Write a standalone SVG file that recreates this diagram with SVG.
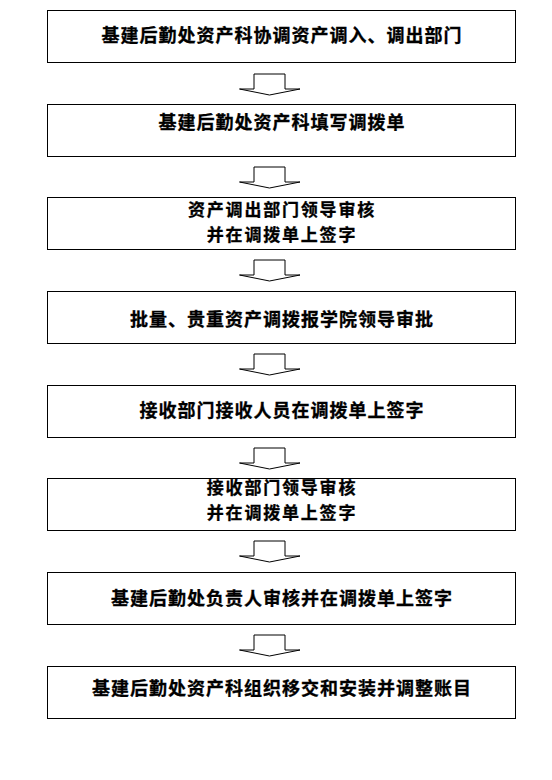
<svg xmlns="http://www.w3.org/2000/svg" width="552" height="780" viewBox="0 0 552 780">
<defs>
<style>
.box{fill:#fff;stroke:#000;stroke-width:1}
.t{font-family:"Noto Sans CJK SC","Noto Sans",sans-serif;font-weight:bold;font-size:18px;letter-spacing:1px;text-anchor:middle;fill:#000;stroke:#000;stroke-width:0.3px}
.t2{font-size:17px;letter-spacing:1.8px}
.arr{fill:#fff;stroke:#000;stroke-width:1;stroke-linejoin:miter}
</style>
<polygon id="arrowShape" class="arr" points="-15.5,0 15.5,0 15.5,15 30.5,15 0,21 -30,15 -15.5,15"/>
</defs>
<rect width="552" height="780" fill="#fff"/>
<g id="connectors">
<use href="#arrowShape" x="269.5" y="74"/>
<use href="#arrowShape" x="269.5" y="167"/>
<use href="#arrowShape" x="269.5" y="260"/>
<use href="#arrowShape" x="269.5" y="354"/>
<use href="#arrowShape" x="269.5" y="448"/>
<use href="#arrowShape" x="269.5" y="541"/>
<use href="#arrowShape" x="269.5" y="635"/>
</g>
<g id="n1"><rect class="box" x="47.5" y="10.5" width="468" height="52"/><text class="t" x="282" y="42">基建后勤处资产科协调资产调入、调出部门</text></g>
<g id="n2"><rect class="box" x="47.5" y="104.5" width="468" height="52"/><text class="t" x="282" y="129">基建后勤处资产科填写调拨单</text></g>
<g id="n3"><rect class="box" x="47.5" y="197.5" width="468" height="52"/><text class="t t2" x="282" y="216"><tspan x="282" y="216">资产调出部门领导审核</tspan><tspan x="282" y="241">并在调拨单上签字</tspan></text></g>
<g id="n4"><rect class="box" x="47.5" y="291.5" width="468" height="52"/><text class="t" x="282" y="326">批量、贵重资产调拨报学院领导审批</text></g>
<g id="n5"><rect class="box" x="47.5" y="385.5" width="468" height="52"/><text class="t" x="282" y="417">接收部门接收人员在调拨单上签字</text></g>
<g id="n6"><rect class="box" x="47.5" y="478.5" width="468" height="52"/><text class="t t2" x="282" y="494"><tspan x="282" y="494">接收部门领导审核</tspan><tspan x="282" y="519">并在调拨单上签字</tspan></text></g>
<g id="n7"><rect class="box" x="47.5" y="572.5" width="468" height="52"/><text class="t" x="282" y="605">基建后勤处负责人审核并在调拨单上签字</text></g>
<g id="n8"><rect class="box" x="47.5" y="666.5" width="468" height="52"/><text class="t" x="282" y="695">基建后勤处资产科组织移交和安装并调整账目</text></g>
</svg>
